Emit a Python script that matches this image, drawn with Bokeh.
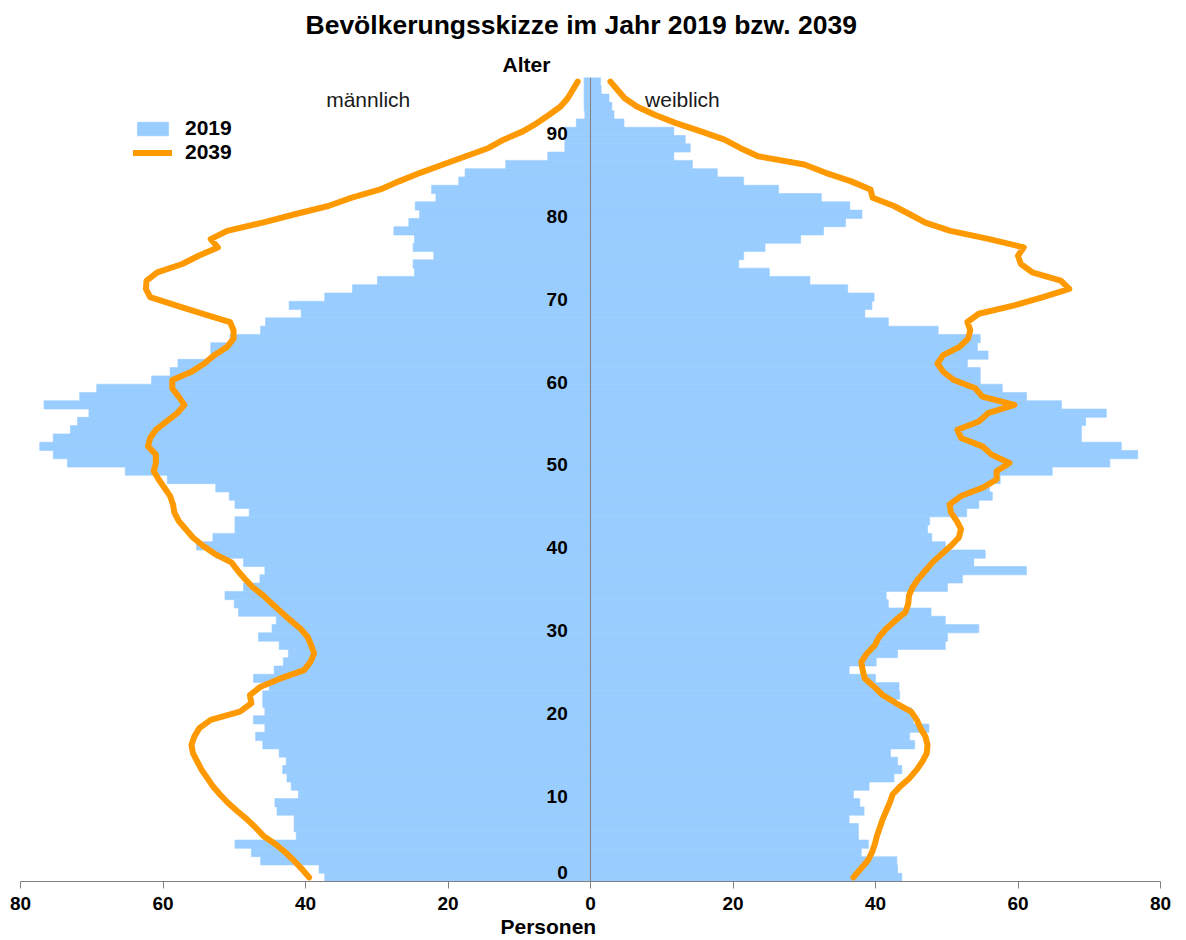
from bokeh.plotting import figure
from bokeh.models import ColumnDataSource, FixedTicker, Legend, LegendItem, Span, Title
from bokeh.core.properties import value
from bokeh.embed import file_html
from bokeh.resources import INLINE

# ---------------- data ----------------
ages = list(range(97))

male_2019 = [
    37.3, 38.1, 46.3, 47.6, 49.9, 41.3, 41.6, 41.6, 44.0, 44.3,
    41.0, 42.0, 42.6, 43.2, 42.7, 43.7, 46.0, 47.0, 45.7, 47.3,
    45.7, 46.0, 46.0, 45.1, 47.3, 44.4, 43.1, 42.4, 43.7, 46.6,
    44.7, 44.1, 49.4, 50.0, 51.3, 48.7, 46.4, 45.7, 48.7, 52.6,
    55.3, 53.0, 49.9, 49.9, 47.9, 49.9, 50.7, 52.6, 59.4, 65.3,
    73.4, 75.4, 77.3, 75.4, 73.0, 72.0, 70.4, 76.7, 71.7, 69.3,
    61.6, 59.0, 57.9, 53.3, 53.3, 50.6, 46.3, 45.6, 40.6, 42.3,
    37.3, 33.4, 29.9, 24.7, 24.9, 22.0, 24.9, 24.7, 27.6, 25.5,
    24.0, 24.6, 21.7, 22.3, 18.5, 17.6, 11.9, 6.0, 3.6, 3.6,
    3.6, 2.0, 0.8, 0.9, 0.9, 0.9, 0.9]

female_2019 = [
    43.7, 43.1, 43.0, 38.0, 39.0, 37.6, 37.6, 36.3, 38.4, 37.8,
    36.9, 39.1, 42.6, 43.7, 43.1, 42.1, 45.5, 44.8, 47.5, 45.3,
    45.0, 42.9, 43.4, 43.3, 40.0, 36.3, 40.1, 43.1, 49.8, 50.1,
    54.5, 49.8, 47.8, 41.8, 41.5, 50.1, 52.2, 61.2, 53.8, 55.4,
    49.8, 47.9, 47.3, 47.6, 52.8, 54.5, 56.4, 56.0, 57.5, 64.8,
    72.9, 76.8, 74.5, 68.9, 68.9, 69.5, 72.4, 66.1, 61.2, 57.8,
    54.7, 54.7, 52.9, 55.8, 54.3, 54.7, 48.8, 41.8, 38.5, 39.5,
    39.8, 36.1, 30.8, 25.1, 20.8, 21.5, 24.5, 29.5, 32.7, 35.8,
    38.1, 36.4, 32.4, 26.4, 21.5, 17.8, 14.3, 11.7, 14.0, 13.3,
    11.7, 4.7, 3.3, 3.0, 2.6, 1.5, 1.4]

male_2039 = [
    39.5, 40.5, 41.6, 42.8, 44.2, 45.9, 47.0, 48.2, 49.6, 50.9,
    52.0, 53.0, 53.8, 54.6, 55.2, 55.8, 56.0, 55.6, 54.9, 53.3,
    49.2, 47.6, 47.8, 46.3, 43.5, 40.2, 39.3, 38.8, 39.2, 39.7,
    40.7, 42.1, 43.4, 44.7, 45.9, 47.4, 48.5, 49.5, 50.4, 52.7,
    54.4, 55.8, 56.8, 57.8, 58.4, 58.6, 59.0, 59.8, 60.6, 61.3,
    61.0, 61.0, 62.1, 61.8, 61.0, 59.5, 58.0, 57.0, 57.8, 58.7,
    58.7, 56.0, 54.2, 52.8, 51.0, 50.1, 50.1, 50.6, 54.5, 58.2,
    61.8, 62.4, 62.3, 60.8, 57.3, 55.0, 52.3, 53.3, 51.0, 46.0,
    41.5, 36.8, 33.5, 29.5, 26.8, 23.9, 20.7, 17.5, 14.3, 12.2,
    9.5, 7.5, 5.8, 4.2, 3.2, 2.5, 1.8]

female_2039 = [
    36.9, 37.9, 38.9, 39.5, 39.9, 40.2, 40.6, 41.0, 41.5, 42.0,
    42.4, 43.5, 44.8, 45.8, 46.6, 47.2, 47.3, 47.0, 46.3, 45.8,
    45.0, 42.9, 41.0, 39.8, 38.5, 38.2, 38.0, 38.8, 39.9, 40.5,
    41.5, 42.8, 44.2, 44.6, 44.7, 45.2, 46.0, 47.0, 48.0, 49.3,
    50.6, 51.7, 52.0, 51.4, 50.6, 50.4, 52.0, 55.0, 57.0, 57.0,
    58.8, 56.3, 55.0, 52.0, 51.5, 54.5, 55.8, 59.5, 55.0, 54.0,
    51.0, 49.5, 48.7, 49.5, 51.8, 53.0, 53.3, 52.9, 54.5, 59.5,
    63.5, 67.2, 66.0, 62.0, 60.4, 60.0, 60.8, 56.0, 50.5, 47.0,
    44.8, 42.6, 39.6, 39.3, 36.5, 33.0, 30.0, 23.5, 21.0, 18.8,
    15.5, 12.0, 9.0, 6.5, 4.8, 3.8, 2.8]

x_ticks = [-80, -60, -40, -20, 0, 20, 40, 60, 80]
age_ticks = [0, 10, 20, 30, 40, 50, 60, 70, 80, 90]

# ---------------- style ----------------
FONT = "Liberation Sans"
BLUE = "#99CCFF"
ORANGE = "#FF9900"
GRAY = "#808080"

src = ColumnDataSource(dict(
    y=[a + 0.5 for a in ages],
    m19=[-v for v in male_2019],
    f19=female_2019,
    m39=[-v for v in male_2039],
    f39=female_2039,
))

p = figure(width=1186, height=940, x_range=(-80, 80), y_range=(0, 97),
           output_backend="svg", toolbar_location=None, y_axis_location=None,
           title=None,
           min_border_left=20, min_border_right=26, min_border_top=77, min_border_bottom=59)
p.outline_line_color = None
p.grid.visible = False
p.background_fill_color = "white"

bar_m = p.hbar(y="y", left="m19", right=0, height=1, source=src,
               fill_color=BLUE, line_color=BLUE, line_width=0.6)
p.hbar(y="y", left=0, right="f19", height=1, source=src,
       fill_color=BLUE, line_color=BLUE, line_width=0.6)

p.add_layout(Span(location=0, dimension="height", line_color=GRAY, line_width=1, level="glyph"))

line_m = p.line("m39", "y", source=src, line_color=ORANGE, line_width=6,
                line_join="round", line_cap="round")
p.line("f39", "y", source=src, line_color=ORANGE, line_width=6,
       line_join="round", line_cap="round")

# age labels (y axis in the middle)
lab_src = ColumnDataSource(dict(
    x=[-3.2] * len(age_ticks),
    y=[max(k + 0.25, 1.1) for k in age_ticks],
    t=[str(k) for k in age_ticks],
))
p.text(x="x", y="y", text="t", source=lab_src, text_align="right", text_baseline="middle",
       text_font=value(FONT), text_font_style="bold", text_font_size="19px", text_color="black")

# sex labels inside the frame
sex_src = ColumnDataSource(dict(x=[-31.2, 12.9], y=[94.4, 94.4], t=["männlich", "weiblich"]))
p.text(x="x", y="y", text="t", source=sex_src, text_align="center", text_baseline="middle",
       text_font=value(FONT), text_font_size="21px", text_color="#1a1a1a")

# x axis
ax = p.xaxis[0]
ax.ticker = FixedTicker(ticks=x_ticks)
ax.major_label_overrides = {t: str(abs(t)) for t in x_ticks}
ax.axis_line_color = GRAY
ax.major_tick_line_color = GRAY
ax.minor_tick_line_color = None
ax.major_tick_in = 0
ax.major_tick_out = 7
ax.major_label_standoff = 8
ax.major_label_text_font = FONT
ax.major_label_text_font_style = "bold"
ax.major_label_text_font_size = "19px"
ax.major_label_text_color = "black"

# titles in the side panels
p.add_layout(Title(text="Alter", align="left", offset=482, standoff=4,
                   text_font=FONT, text_font_style="bold", text_font_size="21px",
                   text_color="black"), "above")
p.add_layout(Title(text="Bevölkerungsskizze im Jahr 2019 bzw. 2039", align="left", offset=285,
                   standoff=14, vertical_align="top",
                   text_font=FONT, text_font_style="bold", text_font_size="26.5px",
                   text_color="black"), "above")
p.add_layout(Title(text="Personen", align="left", offset=480, standoff=0,
                   text_font=FONT, text_font_style="bold", text_font_size="21px",
                   text_color="black"), "below")

legend = Legend(items=[LegendItem(label="2019", renderers=[bar_m]),
                       LegendItem(label="2039", renderers=[line_m])],
                location=(113, 717), orientation="vertical",
                glyph_width=39, glyph_height=17, label_height=17, label_standoff=13,
                spacing=0, padding=0, margin=0,
                label_text_font=FONT, label_text_font_style="bold", label_text_font_size="21px",
                label_text_color="black",
                border_line_color=None, background_fill_alpha=0)
p.add_layout(legend)

open("out.html", "w").write(file_html(p, INLINE))
